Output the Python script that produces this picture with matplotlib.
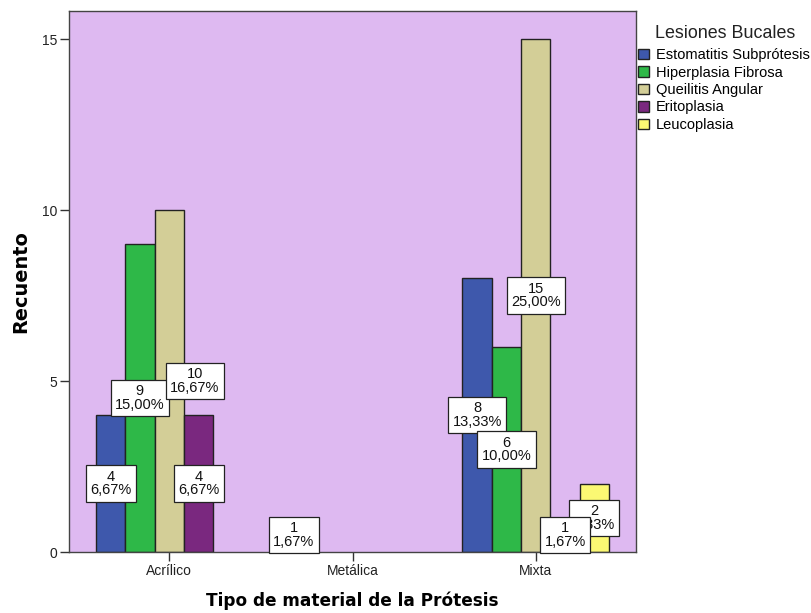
import matplotlib
matplotlib.use("Agg")
import matplotlib.pyplot as plt
import numpy as np

plt.rcParams['font.family'] = ['Liberation Sans', 'DejaVu Sans']

# ---------- Data ----------
categories = ['Acrílico', 'Metálica', 'Mixta']
lesiones = ['Estomatitis Subprótesis', 'Hiperplasia Fibrosa',
            'Queilitis Angular', 'Eritoplasia', 'Leucoplasia']
estomatitis = [4, 1, 8]
hiperplasia = [9, 0, 6]
queilitis = [10, 0, 15]
eritoplasia = [4, 0, 1]
leucoplasia = [0, 0, 2]
counts = [estomatitis, hiperplasia, queilitis, eritoplasia, leucoplasia]
colors = ['#3E58AC', '#2EB848', '#D3CE97', '#7A287F', '#FBF873']

total = sum(sum(c) for c in counts)

# label nudges (series index, category index) -> x shift, to avoid overlaps
nudge = {(2, 0): 0.14}

# ---------- Plot ----------
fig = plt.figure(figsize=(8.11, 6.13), dpi=100)
ax = fig.add_axes([69 / 811, 61 / 613, 567 / 811, 541 / 613])
ax.set_facecolor('#DEB9F1')

x = np.arange(len(categories))
width = 0.16
handles = []
for i, (name, vals, col) in enumerate(zip(lesiones, counts, colors)):
    pos = x + (i - 2) * width
    vals = np.array(vals, dtype=float)
    keep = vals > 0
    bars = ax.bar(pos[keep], vals[keep], width, color=col, edgecolor='#222222',
                  linewidth=1.0, label=name, zorder=2)
    handles.append(bars)
    for j, v in enumerate(vals):
        if v == 0:
            continue
        pct = f"{v / total * 100:.2f}".replace('.', ',') + '%'
        # purple label sits over the yellow one
        z = 4 if i == 4 else 5
        ax.text(pos[j] + nudge.get((i, j), 0), v / 2, f"{int(v)}\n{pct}",
                ha='center', va='center', fontsize=10.5, linespacing=0.97,
                zorder=z, color='#111111',
                bbox=dict(boxstyle='square,pad=0.3', fc='white',
                          ec='#222222', lw=0.9))

ax.set_xlim(-0.547, 2.547)
ax.set_ylim(0, 15.82)
ax.set_xticks(x)
ax.set_xticklabels(categories, fontsize=10)
ax.set_yticks([0, 5, 10, 15])
ax.tick_params(axis='both', direction='out', length=6.5, width=1,
               color='#333333', pad=2, labelsize=10, labelcolor='#222222')
for s in ax.spines.values():
    s.set_color('#444444')
    s.set_linewidth(1.0)

ax.set_xlabel('Tipo de material de la Prótesis', fontsize=12.2,
              fontweight='bold', family='DejaVu Sans', labelpad=10)
ax.set_ylabel('Recuento', fontsize=13.9, fontweight='bold',
              family='DejaVu Sans', labelpad=8)

# legend title drawn on its own, entries below it
fig.text(725 / 811, 1 - 33 / 613, 'Lesiones Bucales', fontsize=12.9,
         ha='center', va='center', color='#222222')
leg = ax.legend(handles=handles, labels=lesiones, loc='upper left',
                bbox_to_anchor=(638 / 811, 1 - 48 / 613),
                bbox_transform=fig.transFigure, frameon=False,
                fontsize=10.5, handlelength=0.75, handleheight=0.75,
                handletextpad=0.45, labelspacing=0.24, borderpad=0,
                borderaxespad=0)

fig.savefig('out.png', dpi=100)
